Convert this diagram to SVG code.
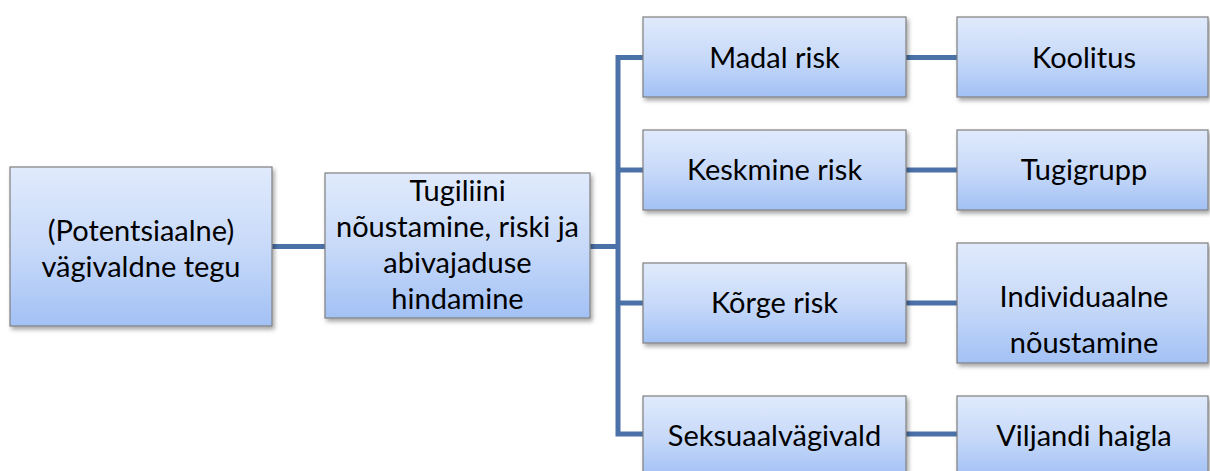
<svg xmlns="http://www.w3.org/2000/svg" width="1210" height="471" viewBox="0 0 1210 471">
<defs>
<linearGradient id="g" x1="0" y1="0" x2="0" y2="1">
<stop offset="0" stop-color="#e0eafc"/>
<stop offset="0.5" stop-color="#c8daf9"/>
<stop offset="1" stop-color="#a3c1f5"/>
</linearGradient>
<filter id="sh" x="-10%" y="-10%" width="125%" height="130%">
<feDropShadow dx="2" dy="3" stdDeviation="2" flood-color="#000" flood-opacity="0.35"/>
</filter>
</defs>
<style>
.box{fill:url(#g);stroke:#7f7f7f;stroke-width:1.2;filter:url(#sh)}
.t{font-family:Lato,"Liberation Sans",sans-serif;font-size:29px;fill:#000;text-anchor:middle}
.c{fill:none;stroke:#4a72a8;stroke-width:5;stroke-linejoin:miter;stroke-linecap:butt}
</style>
<rect width="1210" height="471" fill="#fff"/>
<g id="connectors">
<path class="c" d="M272 246.5 H325"/>
<path class="c" d="M590 246.5 H618"/>
<path class="c" d="M643 57.5 H618 V434 H643"/>
<path class="c" d="M618 170 H643"/>
<path class="c" d="M618 303 H643"/>
<path class="c" d="M906 57.5 H957"/>
<path class="c" d="M906 170 H957"/>
<path class="c" d="M906 303 H957"/>
<path class="c" d="M906 434 H957"/>
</g>
<g id="n1"><rect class="box" x="10" y="167" width="262" height="159"/>
<text class="t" x="141" y="241">(Potentsiaalne)</text><text class="t" x="141" y="277">vägivaldne tegu</text></g>
<g id="n2"><rect class="box" x="325" y="173" width="265" height="145"/>
<text class="t" x="457.5" y="201">Tugiliini</text><text class="t" x="457.5" y="237">nõustamine, riski ja</text><text class="t" x="457.5" y="273">abivajaduse</text><text class="t" x="457.5" y="309">hindamine</text></g>
<g id="n3"><rect class="box" x="643" y="17" width="263" height="80"/><text class="t" x="774.5" y="67.5">Madal risk</text></g>
<g id="n4"><rect class="box" x="957" y="17" width="251" height="80"/><text class="t" x="1084" y="67.5">Koolitus</text></g>
<g id="n5"><rect class="box" x="643" y="130" width="263" height="80"/><text class="t" x="774.5" y="180">Keskmine risk</text></g>
<g id="n6"><rect class="box" x="957" y="130" width="251" height="80"/><text class="t" x="1084" y="180">Tugigrupp</text></g>
<g id="n7"><rect class="box" x="643" y="263" width="263" height="80"/><text class="t" x="774.5" y="313">Kõrge risk</text></g>
<g id="n8"><rect class="box" x="957" y="243" width="251" height="120"/><text class="t" x="1084" y="307">Individuaalne</text><text class="t" x="1084" y="353">nõustamine</text></g>
<g id="n9"><rect class="box" x="643" y="396" width="263" height="80"/><text class="t" x="774.5" y="446">Seksuaalvägivald</text></g>
<g id="n10"><rect class="box" x="957" y="396" width="251" height="80"/><text class="t" x="1084" y="446">Viljandi haigla</text></g>
</svg>
